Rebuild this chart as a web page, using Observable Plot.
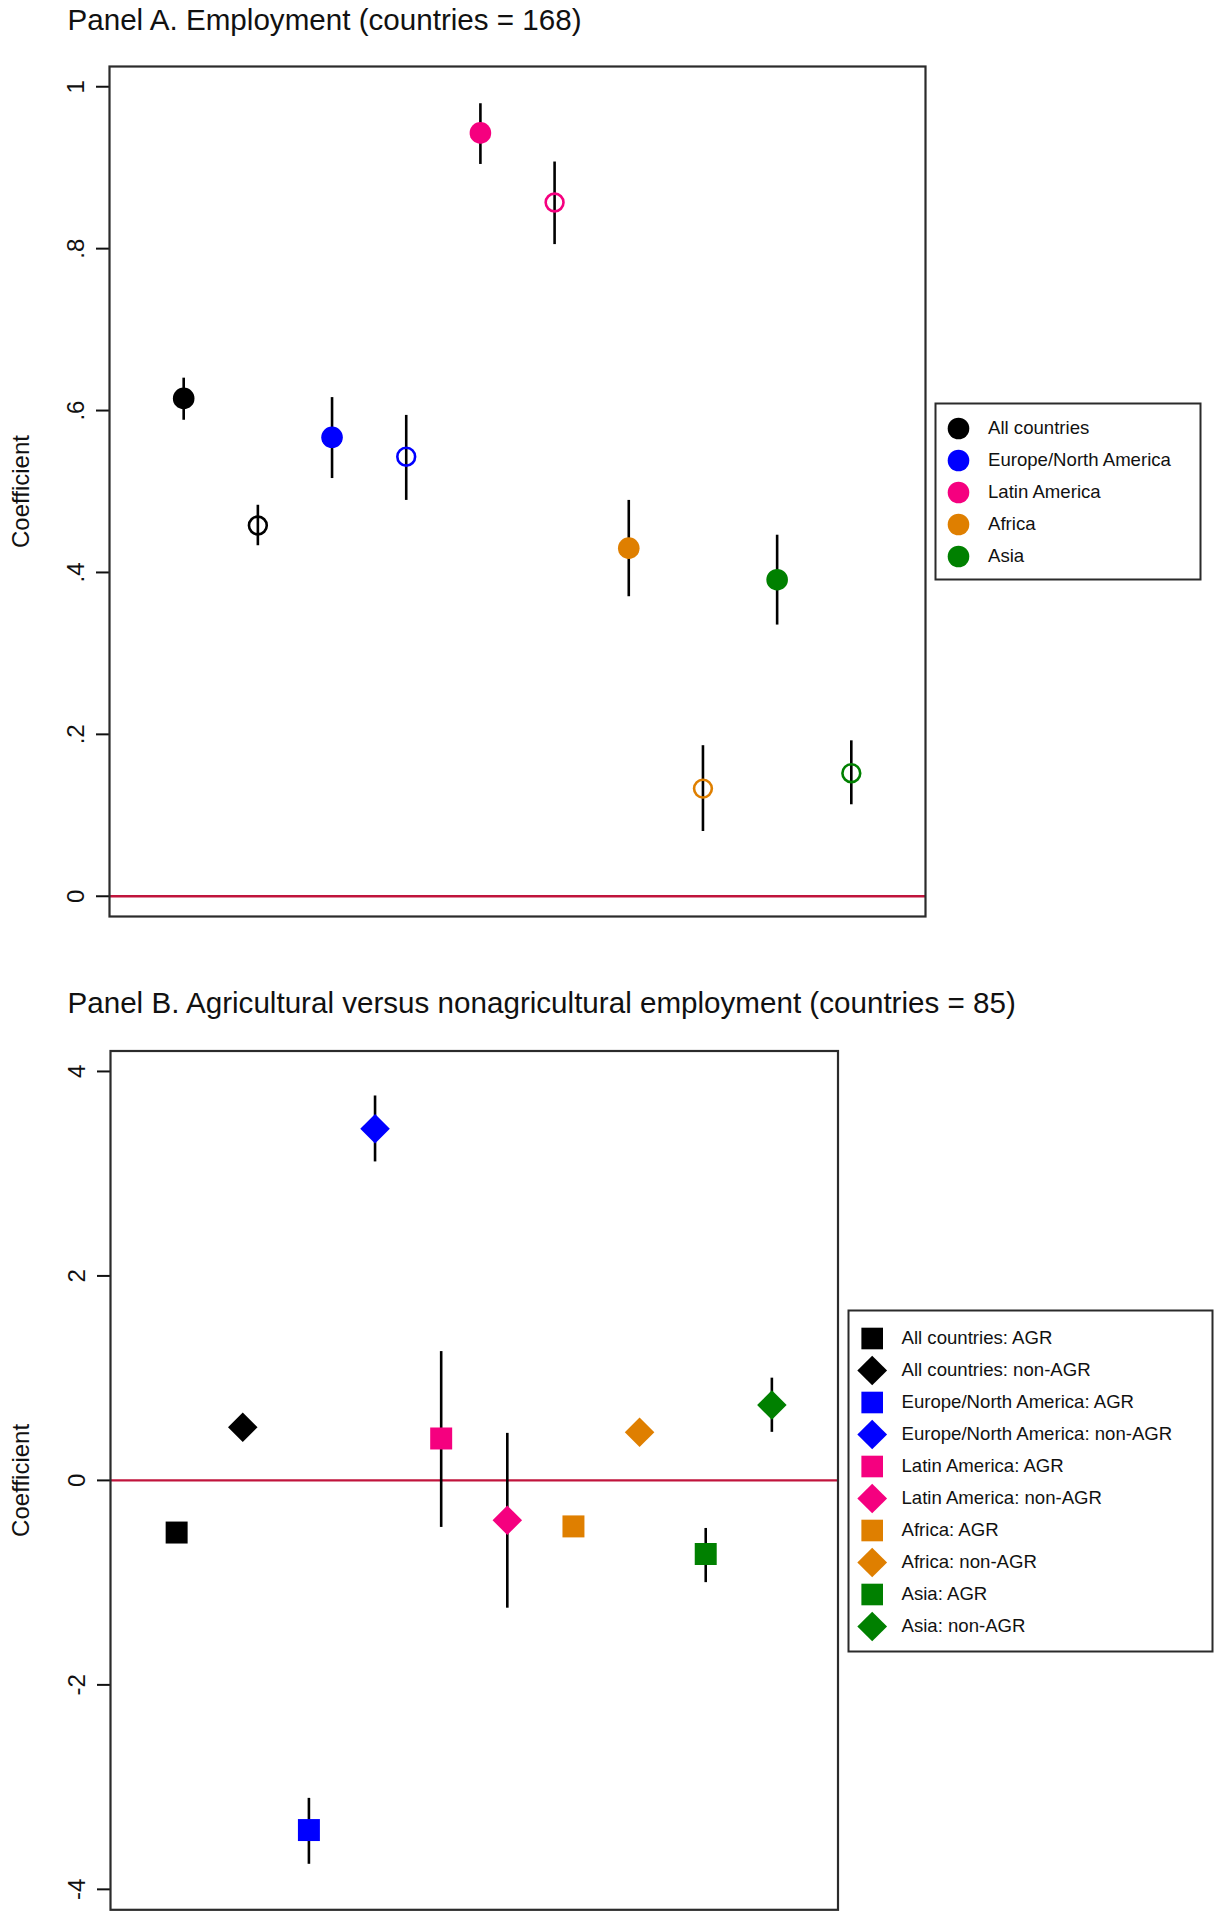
<!DOCTYPE html>
<html><head><meta charset="utf-8">
<script src="https://cdn.jsdelivr.net/npm/d3@7"></script>
<script src="https://cdn.jsdelivr.net/npm/@observablehq/plot@0.6"></script>
<style>
body{margin:0;background:#fff;}
#wrap{position:relative;width:1222px;height:1920px;font-family:"Liberation Sans",Arial,Helvetica,sans-serif;color:#111;}
.title{position:absolute;left:67.5px;font-size:29.6px;line-height:29px;white-space:nowrap;}
</style></head><body><div id="wrap"></div>
<script>
// ---------- shared categories ----------
const regions = ["All countries", "Europe/North America", "Latin America", "Africa", "Asia"];
const regionColors = ["#000000", "#0000ff", "#f5007f", "#df7f00", "#008000"];

// ---------- Panel A: Employment ----------
const panelARegion = ["All countries","All countries","Europe/North America","Europe/North America","Latin America","Latin America","Africa","Africa","Asia","Asia"];
const panelAFilled = [true,false,true,false,true,false,true,false,true,false];
const panelAEst   = [0.615, 0.458, 0.567, 0.543, 0.943, 0.857, 0.430, 0.133, 0.391, 0.152];
const panelALower = [0.588, 0.433, 0.516, 0.489, 0.904, 0.805, 0.370, 0.080, 0.335, 0.113];
const panelAUpper = [0.640, 0.483, 0.616, 0.594, 0.979, 0.907, 0.489, 0.186, 0.446, 0.192];
const panelATicks = [0, 0.2, 0.4, 0.6, 0.8, 1];

// ---------- Panel B: AGR vs non-AGR ----------
const sectors = ["AGR", "non-AGR"];
const panelBRegion = ["All countries","All countries","Europe/North America","Europe/North America","Latin America","Latin America","Africa","Africa","Asia","Asia"];
const panelBSector = ["AGR","non-AGR","AGR","non-AGR","AGR","non-AGR","AGR","non-AGR","AGR","non-AGR"];
const panelBEst   = [-0.51, 0.52, -3.42, 3.44, 0.41, -0.39, -0.45, 0.47, -0.72, 0.737];
const panelBLower = [-0.58, 0.45, -3.755, 3.115, -0.46, -1.25, -0.51, 0.41, -1.00, 0.47];
const panelBUpper = [-0.45, 0.58, -3.11, 3.76, 1.26, 0.46, -0.39, 0.53, -0.47, 1.00];
const panelBTicks = [-4, -2, 0, 2, 4];

const FONT = "Liberation Sans, Arial, Helvetica, sans-serif";
const FRAME = "#2b2b2b";
const ZERO = "#c0143c";
const LEGEND_FONT = 18.6;
const wrap = document.getElementById("wrap");

function place(el, left, top) {
  el.style.position = "absolute";
  el.style.left = left + "px";
  el.style.top = top + "px";
  wrap.appendChild(el);
}
function title(text, top) {
  const d = document.createElement("div");
  d.className = "title";
  d.textContent = text;
  d.style.top = top + "px";
  wrap.appendChild(d);
}

// ---------- Panel A plot ----------
const dataA = panelAEst.map((v, i) => ({
  pos: i + 1, est: v, lo: panelALower[i], hi: panelAUpper[i],
  region: panelARegion[i], filled: panelAFilled[i]
}));
const fmtA = d => d === 0 ? "0" : d === 1 ? "1" : String(d).replace("0.", ".");

const plotA = Plot.plot({
  width: 1222, height: 930,
  marginLeft: 109, marginRight: 297, marginTop: 66, marginBottom: 14,
  style: {fontFamily: FONT, fontSize: "24px", color: "#111", background: "transparent", overflow: "visible"},
  x: {domain: [0, 11], axis: null},
  y: {domain: [-0.025, 1.025], axis: null},
  color: {domain: regions, range: regionColors},
  marks: [
    Plot.ruleY([0], {stroke: ZERO, strokeWidth: 2.4}),
    Plot.ruleX(dataA, {x: "pos", y1: "lo", y2: "hi", stroke: "#000", strokeWidth: 2.6}),
    Plot.dot(dataA.filter(d => d.filled), {x: "pos", y: "est", r: 10.8, fill: "region", stroke: "none"}),
    Plot.dot(dataA.filter(d => !d.filled), {x: "pos", y: "est", r: 8.9, stroke: "region", strokeWidth: 2.6, fill: "none"}),
    Plot.axisY({ticks: panelATicks, tickFormat: fmtA, tickSize: 13, tickPadding: 13, tickRotate: -90, label: null, strokeWidth: 2, fontSize: 24}),
    Plot.text(["Coefficient"], {frameAnchor: "left", dx: -88, rotate: -90, textAnchor: "middle", fontSize: 24}),
    Plot.frame({stroke: FRAME, strokeWidth: 2.2})
  ]
});
place(plotA, 0, 0);
title("Panel A. Employment (countries = 168)", 4.5);

// ---------- Panel A legend ----------
const legendA = Plot.plot({
  width: 267, height: 178,
  marginLeft: 1, marginRight: 1, marginTop: 1, marginBottom: 1,
  style: {fontFamily: FONT, fontSize: LEGEND_FONT + "px", color: "#111", background: "transparent", overflow: "visible"},
  x: {axis: null},
  y: {type: "point", domain: regions, range: [25.5, 154], padding: 0, axis: null},
  color: {domain: regions, range: regionColors},
  marks: [
    Plot.dot(regions, {frameAnchor: "left", dx: 23, y: d => d, fill: d => d, r: 10.8, stroke: "none"}),
    Plot.text(regions, {frameAnchor: "left", dx: 52.5, y: d => d, text: d => d, textAnchor: "start", fontSize: LEGEND_FONT}),
    Plot.frame({stroke: FRAME, strokeWidth: 2})
  ]
});
place(legendA, 934, 402);

// ---------- Panel B plot ----------
const dataB = panelBEst.map((v, i) => ({
  pos: i + 1, est: v, lo: panelBLower[i], hi: panelBUpper[i],
  region: panelBRegion[i], sector: panelBSector[i]
}));
const symbolRange = ["square", "diamond2"];

const plotB = Plot.plot({
  width: 1222, height: 920,
  marginLeft: 110, marginRight: 384.5, marginTop: 50.5, marginBottom: 10.7,
  style: {fontFamily: FONT, fontSize: "24px", color: "#111", background: "transparent", overflow: "visible"},
  x: {domain: [0, 11], axis: null},
  y: {domain: [-4.2, 4.2], axis: null},
  color: {domain: regions, range: regionColors},
  symbol: {domain: sectors, range: symbolRange},
  marks: [
    Plot.ruleY([0], {stroke: ZERO, strokeWidth: 2.4}),
    Plot.ruleX(dataB, {x: "pos", y1: "lo", y2: "hi", stroke: "#000", strokeWidth: 2.6}),
    Plot.dot(dataB.filter(d => d.sector === "AGR"), {x: "pos", y: "est", symbol: "sector", fill: "region", stroke: "none", r: 12.4}),
    Plot.dot(dataB.filter(d => d.sector !== "AGR"), {x: "pos", y: "est", symbol: "sector", fill: "region", stroke: "none", r: 13.3}),
    Plot.axisY({ticks: panelBTicks, tickFormat: d => String(d), tickSize: 13, tickPadding: 13, tickRotate: -90, label: null, strokeWidth: 2, fontSize: 24}),
    Plot.text(["Coefficient"], {frameAnchor: "left", dx: -89, rotate: -90, textAnchor: "middle", fontSize: 24}),
    Plot.frame({stroke: FRAME, strokeWidth: 2.2})
  ]
});
place(plotB, 0, 1000);
title("Panel B. Agricultural versus nonagricultural employment (countries = 85)", 987.5);

// ---------- Panel B legend ----------
const legendBItems = [];
regions.forEach(r => sectors.forEach(s => legendBItems.push({region: r, sector: s, label: r + ": " + s})));
const legendBLabels = legendBItems.map(d => d.label);
const legendB = Plot.plot({
  width: 366, height: 343,
  marginLeft: 1, marginRight: 1, marginTop: 1, marginBottom: 1,
  style: {fontFamily: FONT, fontSize: LEGEND_FONT + "px", color: "#111", background: "transparent", overflow: "visible"},
  x: {axis: null},
  y: {type: "point", domain: legendBLabels, range: [26.5, 318.5], padding: 0, axis: null},
  color: {domain: regions, range: regionColors},
  symbol: {domain: sectors, range: symbolRange},
  marks: [
    Plot.dot(legendBItems.filter(d => d.sector === "AGR"), {frameAnchor: "left", dx: 23.7, y: "label", fill: "region", symbol: "sector", r: 12.2, stroke: "none"}),
    Plot.dot(legendBItems.filter(d => d.sector !== "AGR"), {frameAnchor: "left", dx: 23.7, y: "label", fill: "region", symbol: "sector", r: 13.4, stroke: "none"}),
    Plot.text(legendBItems, {frameAnchor: "left", dx: 53, y: "label", text: "label", textAnchor: "start", fontSize: LEGEND_FONT}),
    Plot.frame({stroke: FRAME, strokeWidth: 2})
  ]
});
place(legendB, 847, 1309);
</script>
</body></html>
